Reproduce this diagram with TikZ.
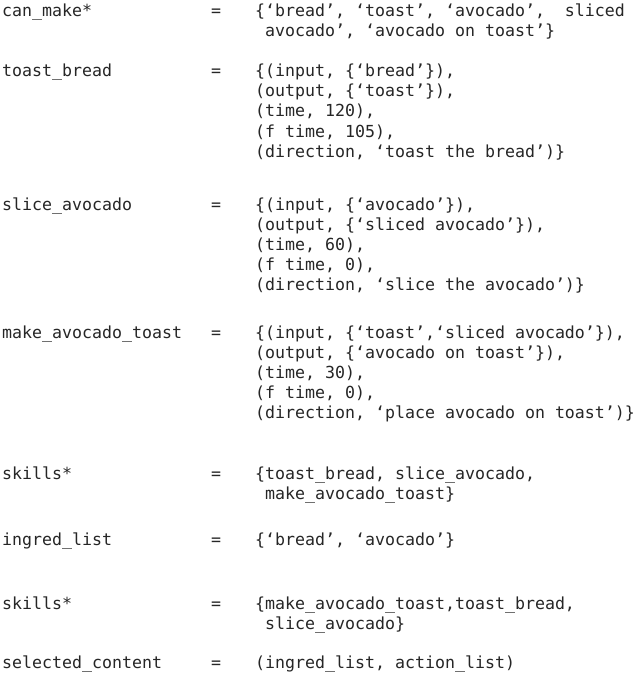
\documentclass[tikz,border=0pt]{standalone}
\usepackage{fontspec}
\setmonofont{DejaVu Sans Mono}
\begin{document}
\begin{tikzpicture}[x=1pt,y=-1pt,
  txt/.style={anchor=base west,inner sep=0pt,font=\ttfamily\fontsize{16.6}{20}\selectfont,text=black!85}]
\useasboundingbox[fill=white] (0,0) rectangle (640,674);
% column 1
\node[txt] (k1) at (2,17) {can\_make*};
\node[txt] (k2) at (2,77) {toast\_bread};
\node[txt] (k3) at (2,210) {slice\_avocado};
\node[txt] (k4) at (2,338) {make\_avocado\_toast};
\node[txt] (k5) at (2,479) {skills*};
\node[txt] (k6) at (2,545) {ingred\_list};
\node[txt] (k7) at (2,609) {skills*};
\node[txt] (k8) at (2,668) {selected\_content};
% equals
\foreach \y/\n in {17/1,77/2,210/3,338/4,479/5,545/6,609/7,668/8}
  \node[txt] (e\n) at (211,\y) {=};
% values
\node[txt] (v1a) at (255,17) {\{‘bread’, ‘toast’, ‘avocado’,\ \ sliced};
\node[txt] (v1b) at (255,37) {\ avocado’, ‘avocado on toast’\}};
\node[txt] (v2a) at (255,77) {\{(input, \{‘bread’\}),};
\node[txt] (v2b) at (255,97) {(output, \{‘toast’\}),};
\node[txt] (v2c) at (255,117) {(time, 120),};
\node[txt] (v2d) at (255,137) {(f time, 105),};
\node[txt] (v2e) at (255,157) {(direction, ‘toast the bread’)\}};
\node[txt] (v3a) at (255,210) {\{(input, \{‘avocado’\}),};
\node[txt] (v3b) at (255,230) {(output, \{‘sliced avocado’\}),};
\node[txt] (v3c) at (255,250) {(time, 60),};
\node[txt] (v3d) at (255,270) {(f time, 0),};
\node[txt] (v3e) at (255,290) {(direction, ‘slice the avocado’)\}};
\node[txt] (v4a) at (255,338) {\{(input, \{‘toast’,‘sliced avocado’\}),};
\node[txt] (v4b) at (255,358) {(output, \{‘avocado on toast’\}),};
\node[txt] (v4c) at (255,378) {(time, 30),};
\node[txt] (v4d) at (255,398) {(f time, 0),};
\node[txt] (v4e) at (255,418) {(direction, ‘place avocado on toast’)\}};
\node[txt] (v5a) at (255,479) {\{toast\_bread, slice\_avocado,};
\node[txt] (v5b) at (255,499) {\ make\_avocado\_toast\}};
\node[txt] (v6) at (255,545) {\{‘bread’, ‘avocado’\}};
\node[txt] (v7a) at (255,609) {\{make\_avocado\_toast,toast\_bread,};
\node[txt] (v7b) at (255,629) {\ slice\_avocado\}};
\node[txt] (v8) at (255,668) {(ingred\_list, action\_list)};
\end{tikzpicture}
\end{document}
